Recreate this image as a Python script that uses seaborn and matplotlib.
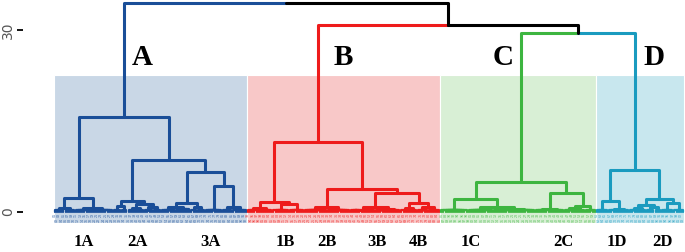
import matplotlib
matplotlib.use("Agg")
import matplotlib.pyplot as plt
from matplotlib.patches import Rectangle
import numpy as np
import pandas as pd
import seaborn as sns

# merge heights
# (h, left, right) is a merge, (h, n) is a tight group of n samples joined at h
tree_A = (15.7,
          (2.3, (0.7, (0.4, 5), (0.3, 5)), (0.7, (0.35, 8), (0.4, 10))),
          (8.6,
           (1.8, (1.0, (0.4, 4), (0.3, 3)),
                 (1.4, (0.6, (0.3, 4), (0.4, 4)), (0.8, (0.3, 4), (0.4, 4)))),
           (6.6,
            (1.5, (0.9, (0.3, 7), (0.5, 7)), (0.8, (0.3, 3), (0.3, 4))),
            (4.3, (0.3, 8), (0.8, (0.4, 5), (0.3, 7))))))
tree_B = (11.5,
          (1.6, (0.6, (0.3, 6), (0.4, 6)), (1.3, (0.4, 8), (0.3, 7))),
          (3.75,
           (0.8, (0.3, 11), (0.4, 11)),
           (3.1,
            (0.8, (0.4, (0.3, 6), (0.4, 6)), (0.5, (0.3, 6), (0.3, 6))),
            (1.5, (0.6, (0.3, 4), (0.4, 4)), (0.9, (0.3, 5), (0.4, 6))))))
tree_C = (4.9,
          (2.1, (0.3, 13), (0.8, (0.4, 12), (0.5, (0.3, 10), (0.3, 10)))),
          (3.1, (0.5, (0.3, 7), (0.4, 7)),
                (1.0, (0.6, (0.3, 5), (0.4, 5)), (0.3, 5))))
tree_D = (6.9,
          (1.8, (0.4, 6), (0.5, (0.3, 5), (0.3, 5))),
          (2.1, (1.2, (0.6, (0.3, 4), (0.3, 4)), (0.8, (0.3, 4), (0.4, 3))),
                (1.5, (0.3, 6), (0.4, 5))))

h_CD = 29.5
h_BCD = 30.8
h_root = 34.45

clusters = ["A", "B", "C", "D"]
sub_labels = ["1A", "2A", "3A", "1B", "2B", "3B", "4B", "1C", "2C", "1D", "2D"]
sub_paths = ["L", "RL", "RR", "L", "RL", "RRL", "RRR", "L", "R", "L", "R"]

line_colors = {"A": "#1A4E98", "B": "#EE1B1B", "C": "#3DB540", "D": "#1A9BBF", "top": "#000000"}
fill_colors = {"A": "#C9D7E6", "B": "#F8C8C8", "C": "#D8EFD5", "D": "#C8E7EE"}

rows = []
seg = [0]
next_leaf = [0]
leaf_group = []


def elbow(pts, grp, kind):
    for x, y in pts:
        rows.append((seg[0], x, y, grp, kind))
    seg[0] += 1


def layout(node, grp, path, spans):
    if len(node) == 2:
        h, n = node
        xs = list(range(next_leaf[0], next_leaf[0] + n))
        next_leaf[0] += n
        cx = float(np.mean(xs))
        for x in xs:
            elbow([(x, 0), (x, h), (cx, h)], grp, "leaf")
            leaf_group.append(grp)
        spans[path] = (xs[0], xs[-1])
        return cx, h
    h, left, right = node
    lx, lh = layout(left, grp, path + "L", spans)
    rx, rh = layout(right, grp, path + "R", spans)
    cx = (lx + rx) / 2
    elbow([(lx, lh), (lx, h), (cx, h)], grp, "branch")
    elbow([(rx, rh), (rx, h), (cx, h)], grp, "branch")
    spans[path] = (spans[path + "L"][0], spans[path + "R"][1])
    return cx, h


spans = {}
tops = {}
for name, tree in zip(clusters, [tree_A, tree_B, tree_C, tree_D]):
    spans[name] = {}
    tops[name] = layout(tree, name, "", spans[name])

# upper merges: C+D, then B+(CD), then A+rest
cd_x = (tops["C"][0] + tops["D"][0]) / 2
elbow([(tops["C"][0], tops["C"][1]), (tops["C"][0], h_CD), (cd_x, h_CD)], "C", "branch")
elbow([(tops["D"][0], tops["D"][1]), (tops["D"][0], h_CD), (cd_x, h_CD)], "D", "branch")
bcd_x = (tops["B"][0] + cd_x) / 2
elbow([(tops["B"][0], tops["B"][1]), (tops["B"][0], h_BCD), (bcd_x, h_BCD)], "B", "branch")
elbow([(cd_x, h_CD), (cd_x, h_BCD), (bcd_x, h_BCD)], "top", "branch")
root_x = (tops["A"][0] + bcd_x) / 2
elbow([(tops["A"][0], tops["A"][1]), (tops["A"][0], h_root), (root_x, h_root)], "A", "branch")
elbow([(bcd_x, h_BCD), (bcd_x, h_root), (root_x, h_root)], "top", "branch")

df = pd.DataFrame(rows, columns=["seg", "x", "y", "grp", "kind"])
n_leaves = len(leaf_group)
# sample ids are unreadable in the picture; short placeholder ids
leaf_names = [f"{(i % 99) + 1:02d}" for i in range(n_leaves)]

sns.set_theme(style="white")
fig = plt.figure(figsize=(6.85, 2.52), dpi=100)
px = 2.1  # pixels per leaf
ax = fig.add_axes([23 / 685, 0, 1 - 23 / 685, 1])
ax.set_xlim((23 - 55) / px, (685 - 55) / px)
ax.set_ylim(-6.59, 34.94)

for name in clusters:
    lo, hi = spans[name][""]
    ax.add_patch(Rectangle((lo - 0.5, -1.8), hi - lo + 1, 24.4,
                           facecolor=fill_colors[name], edgecolor="white", lw=0.8, zorder=0))

sns.lineplot(data=df[df["kind"] == "leaf"], x="x", y="y", hue="grp", units="seg",
             estimator=None, sort=False, palette=line_colors, linewidth=1.6,
             legend=False, ax=ax)
sns.lineplot(data=df[df["kind"] == "branch"], x="x", y="y", hue="grp", units="seg",
             estimator=None, sort=False, palette=line_colors, linewidth=2.2,
             legend=False, ax=ax)

# leaf ids in two staggered rows, like the reference's label band
for i, (nm, grp) in enumerate(zip(leaf_names, leaf_group)):
    ax.text(i, -0.2 if i % 2 == 0 else -0.95, nm, rotation=90, ha="center", va="top",
            fontsize=2.3, color=line_colors[grp], alpha=0.8)

letter_dx = {"A": 19, "B": 25, "C": -18, "D": 19}
for name in clusters:
    ax.text(tops[name][0] + letter_dx[name] / px, 25.5, name, fontsize=21, fontweight="bold",
            family="Liberation Serif", ha="center", va="center", color="black")

label_dx = {"1A": 0, "2A": 1, "3A": 6, "1B": 10, "2B": 0, "3B": 2, "4B": -2,
            "1C": -17, "2C": -2, "1D": 4, "2D": 6}
owner = [l[-1] for l in sub_labels]
for lab, grp, path in zip(sub_labels, owner, sub_paths):
    lo, hi = spans[grp][path]
    ax.text((lo + hi) / 2 + label_dx[lab] / px, -5.0, lab, fontsize=12, fontweight="bold",
            family="Liberation Serif", ha="center", va="center", color="black")

ax.set_xlabel("")
ax.set_ylabel("")
ax.set_xticks([])
ax.set_yticks([0, 30])
ax.set_yticklabels(["0", "30"], rotation=90, va="center", color="#555555", fontsize=10)
ax.tick_params(axis="y", length=4, width=1.3, color="black", pad=1.5, left=True)
for s in ax.spines.values():
    s.set_visible(False)
ax.patch.set_alpha(0)

fig.savefig("out.png", dpi=100)
